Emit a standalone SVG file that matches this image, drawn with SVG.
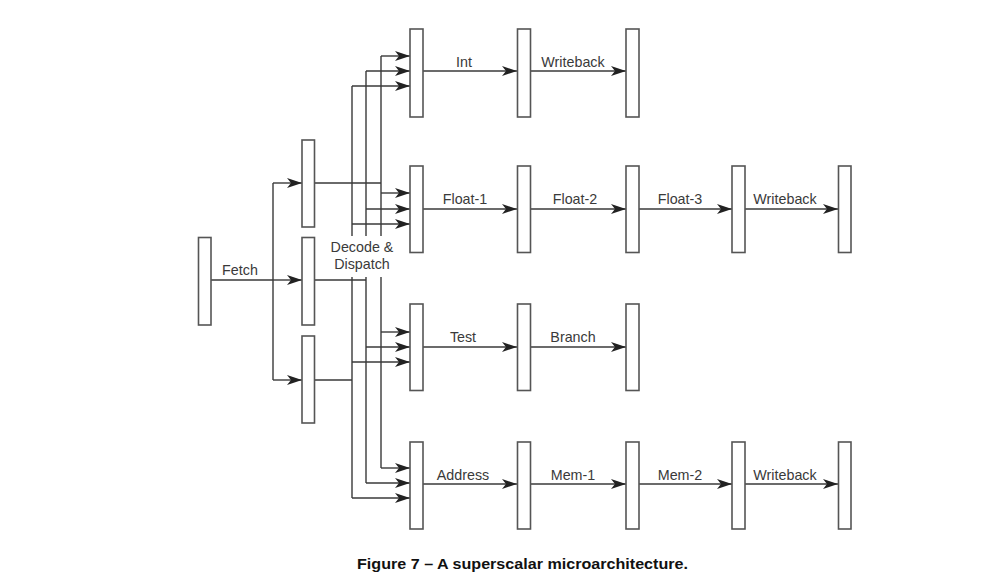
<svg xmlns="http://www.w3.org/2000/svg" width="997" height="582" viewBox="0 0 997 582">
<style>
.box{fill:#fff;stroke:#555;stroke-width:1.6}
.ln{fill:none;stroke:#3a3a3a;stroke-width:1.4}
.lbl{font-family:"Liberation Sans",Arial,sans-serif;font-size:14.3px;fill:#3a3a3a;text-anchor:middle}
.cap{font-family:"Liberation Sans",Arial,sans-serif;font-size:15.5px;font-weight:bold;fill:#111;text-anchor:middle}
</style>
<defs>
<marker id="ah" markerUnits="userSpaceOnUse" markerWidth="16" markerHeight="11" refX="15" refY="5" orient="auto">
<path d="M0,0 L15,5 L0,10 L4,5 z" fill="#222"/>
</marker>
</defs>
<rect width="997" height="582" fill="#fff"/>
<g id="connectors">
<!-- fetch -->
<path class="ln" d="M211,280 H273 M273,183 V380"/>
<path class="ln" d="M273,183 H302" marker-end="url(#ah)"/>
<path class="ln" d="M273,280 H302" marker-end="url(#ah)"/>
<path class="ln" d="M273,380 H302" marker-end="url(#ah)"/>
<!-- decoder 1 bus -->
<path class="ln" d="M314,183 H381 M381,56 V236 M381,277 V468"/>
<path class="ln" d="M381,56 H410" marker-end="url(#ah)"/>
<path class="ln" d="M381,193 H410" marker-end="url(#ah)"/>
<path class="ln" d="M381,332 H410" marker-end="url(#ah)"/>
<path class="ln" d="M381,468 H410" marker-end="url(#ah)"/>
<!-- decoder 2 bus -->
<path class="ln" d="M314,280 H366 M366,71 V236 M366,277 V483"/>
<path class="ln" d="M366,71 H410" marker-end="url(#ah)"/>
<path class="ln" d="M366,209 H410" marker-end="url(#ah)"/>
<path class="ln" d="M366,347 H410" marker-end="url(#ah)"/>
<path class="ln" d="M366,483 H410" marker-end="url(#ah)"/>
<!-- decoder 3 bus -->
<path class="ln" d="M314,380 H352 M352,86 V236 M352,277 V498"/>
<path class="ln" d="M352,86 H410" marker-end="url(#ah)"/>
<path class="ln" d="M352,224 H410" marker-end="url(#ah)"/>
<path class="ln" d="M352,362 H410" marker-end="url(#ah)"/>
<path class="ln" d="M352,498 H410" marker-end="url(#ah)"/>
<!-- int row -->
<path class="ln" d="M423,71 H517" marker-end="url(#ah)"/>
<path class="ln" d="M531,71 H626" marker-end="url(#ah)"/>
<!-- float row -->
<path class="ln" d="M423,209 H517" marker-end="url(#ah)"/>
<path class="ln" d="M531,209 H626" marker-end="url(#ah)"/>
<path class="ln" d="M639,209 H732" marker-end="url(#ah)"/>
<path class="ln" d="M745,209 H838" marker-end="url(#ah)"/>
<!-- test row -->
<path class="ln" d="M423,347 H517" marker-end="url(#ah)"/>
<path class="ln" d="M531,347 H626" marker-end="url(#ah)"/>
<!-- address row -->
<path class="ln" d="M423,484 H517" marker-end="url(#ah)"/>
<path class="ln" d="M531,484 H626" marker-end="url(#ah)"/>
<path class="ln" d="M639,484 H732" marker-end="url(#ah)"/>
<path class="ln" d="M745,484 H838" marker-end="url(#ah)"/>
<!-- connector labels -->
<text class="lbl" x="240" y="275">Fetch</text>
<text class="lbl" x="464" y="67">Int</text>
<text class="lbl" x="573" y="67">Writeback</text>
<text class="lbl" x="465" y="204">Float-1</text>
<text class="lbl" x="575" y="204">Float-2</text>
<text class="lbl" x="680" y="204">Float-3</text>
<text class="lbl" x="785" y="204">Writeback</text>
<text class="lbl" x="463" y="342">Test</text>
<text class="lbl" x="573" y="342">Branch</text>
<text class="lbl" x="463" y="480">Address</text>
<text class="lbl" x="573" y="480">Mem-1</text>
<text class="lbl" x="680" y="480">Mem-2</text>
<text class="lbl" x="785" y="480">Writeback</text>
</g>
<g id="fetch"><rect class="box" x="198.5" y="237.5" width="12.5" height="87.5"/></g>
<g id="decoder1"><rect class="box" x="302" y="140" width="12.5" height="87"/></g>
<g id="decoder2"><rect class="box" x="302" y="237.5" width="12.5" height="87.5"/></g>
<g id="decoder3"><rect class="box" x="302" y="336" width="12.5" height="87"/></g>
<g id="decode-label">
<text class="lbl" x="362" y="252">Decode &amp;</text>
<text class="lbl" x="362" y="269">Dispatch</text>
</g>
<g id="int-1"><rect class="box" x="410" y="29" width="13" height="88"/></g>
<g id="int-2"><rect class="box" x="517.5" y="29" width="13" height="88"/></g>
<g id="int-3"><rect class="box" x="626" y="29" width="13" height="88"/></g>
<g id="float-1"><rect class="box" x="410" y="166" width="13" height="86.5"/></g>
<g id="float-2"><rect class="box" x="517.5" y="166" width="13" height="86.5"/></g>
<g id="float-3"><rect class="box" x="626" y="166" width="13" height="86.5"/></g>
<g id="float-4"><rect class="box" x="732" y="166" width="13" height="86.5"/></g>
<g id="float-5"><rect class="box" x="838.5" y="166" width="12.5" height="86.5"/></g>
<g id="test-1"><rect class="box" x="410" y="304" width="13" height="86.5"/></g>
<g id="test-2"><rect class="box" x="517.5" y="304" width="13" height="86.5"/></g>
<g id="test-3"><rect class="box" x="626" y="304" width="13" height="86.5"/></g>
<g id="addr-1"><rect class="box" x="410" y="442" width="13" height="87"/></g>
<g id="addr-2"><rect class="box" x="517.5" y="442" width="13" height="87"/></g>
<g id="addr-3"><rect class="box" x="626" y="442" width="13" height="87"/></g>
<g id="addr-4"><rect class="box" x="732" y="442" width="13" height="87"/></g>
<g id="addr-5"><rect class="box" x="838.5" y="442" width="12.5" height="87"/></g>
<g id="caption"><text class="cap" x="522.5" y="569" textLength="331" lengthAdjust="spacingAndGlyphs">Figure 7 – A superscalar microarchitecture.</text></g>
</svg>
